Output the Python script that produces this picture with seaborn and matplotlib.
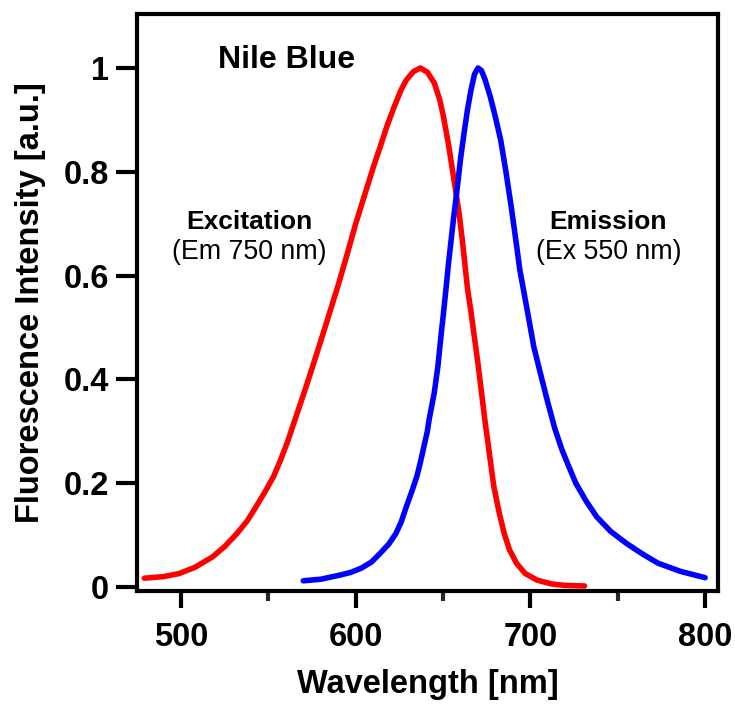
import pandas as pd
import matplotlib.pyplot as plt
import seaborn as sns

# Nile Blue spectra
ex_wl = [479, 490, 499, 508, 518, 525, 532, 538, 543, 548, 553, 557, 561, 565,
         568, 572, 576, 580, 584, 590, 595, 600, 606, 610, 614, 618, 622, 626,
         629, 633, 637, 641, 645, 648, 650, 653, 656, 659, 661, 664, 666, 668,
         670, 672, 674, 677, 679, 682, 685, 688, 692, 697, 704, 712, 720, 731]
ex_int = [0.017, 0.020, 0.026, 0.038, 0.058, 0.078, 0.103, 0.128, 0.155, 0.183,
          0.213, 0.245, 0.280, 0.320, 0.350, 0.390, 0.432, 0.474, 0.517, 0.582,
          0.640, 0.700, 0.765, 0.808, 0.848, 0.889, 0.925, 0.958, 0.977, 0.993,
          1.0, 0.992, 0.971, 0.940, 0.910, 0.855, 0.790, 0.725, 0.669, 0.575,
          0.530, 0.480, 0.430, 0.375, 0.320, 0.245, 0.195, 0.145, 0.103, 0.072,
          0.046, 0.026, 0.013, 0.006, 0.003, 0.002]

em_wl = [570, 580, 591, 597, 603, 609, 614, 619, 623, 626, 629, 632, 635, 637,
         639, 641, 642, 645, 647, 649, 650, 652, 653, 656, 658, 660, 662, 664,
         666, 668, 670, 672, 674, 677, 680, 683, 686, 689, 692, 694, 697, 699,
         702, 706, 710, 714, 718, 722, 726, 732, 738, 746, 755, 764, 773, 786,
         800]
em_int = [0.012, 0.015, 0.023, 0.028, 0.036, 0.048, 0.065, 0.083, 0.103, 0.125,
          0.155, 0.183, 0.213, 0.240, 0.270, 0.300, 0.322, 0.375, 0.424, 0.490,
          0.520, 0.585, 0.620, 0.710, 0.765, 0.825, 0.874, 0.920, 0.958, 0.988,
          1.0, 0.995, 0.978, 0.945, 0.905, 0.861, 0.800, 0.733, 0.660, 0.610,
          0.555, 0.518, 0.462, 0.408, 0.355, 0.305, 0.265, 0.232, 0.200, 0.165,
          0.135, 0.107, 0.084, 0.064, 0.046, 0.030, 0.018]

x_ticks = [500, 600, 700, 800]
y_ticks = [0, 0.2, 0.4, 0.6, 0.8, 1.0]
y_tick_labels = ['0', '0.2', '0.4', '0.6', '0.8', '1']

ex = pd.DataFrame({'wl': ex_wl, 'val': ex_int})
em = pd.DataFrame({'wl': em_wl, 'val': em_int})

sns.set_style('ticks')
plt.rcParams['font.family'] = ['Liberation Sans', 'DejaVu Sans']
plt.rcParams['text.color'] = 'black'
plt.rcParams['axes.labelcolor'] = 'black'

fig = plt.figure(figsize=(7.35, 7.04), dpi=100)
ax = fig.add_axes([0.1864, 0.1605, 0.7905, 0.8196])

sns.lineplot(data=ex, x='wl', y='val', color='#ff0000', lw=4, ax=ax)
sns.lineplot(data=em, x='wl', y='val', color='#0000ff', lw=4, ax=ax)

ax.set_xlim(474.8, 807.4)
ax.set_ylim(-0.0077, 1.104)
ax.set_xticks(x_ticks)
ax.set_xticks([550, 650, 750], minor=True)
ax.set_yticks(y_ticks)
ax.set_yticklabels(y_tick_labels)

for s in ax.spines.values():
    s.set_visible(True)
    s.set_linewidth(3)
    s.set_color('black')

ax.tick_params(axis='both', which='major', direction='out', width=3,
               labelsize=23.5, colors='black')
ax.tick_params(axis='x', which='major', length=12, pad=10)
ax.tick_params(axis='y', which='major', length=15, pad=5)
ax.tick_params(axis='x', which='minor', length=7, width=3)
for lab in ax.get_xticklabels() + ax.get_yticklabels():
    lab.set_fontweight('bold')

ax.set_xlabel('Wavelength [nm]', fontsize=23.5, fontweight='bold', labelpad=12)
ax.set_ylabel('Fluorescence Intensity [a.u.]', fontsize=23.5,
              fontweight='bold', labelpad=13)

ax.text(521, 1.015, 'Nile Blue', fontsize=23, fontweight='bold', va='center')
ax.text(539, 0.703, 'Excitation', fontsize=19, fontweight='bold',
        ha='center', va='center')
ax.text(539, 0.645, '(Em 750 nm)', fontsize=19.3, ha='center', va='center')
ax.text(744.7, 0.703, 'Emission', fontsize=19, fontweight='bold',
        ha='center', va='center')
ax.text(744.7, 0.645, '(Ex 550 nm)', fontsize=19.3, ha='center', va='center')

fig.savefig('out.png', dpi=100)
